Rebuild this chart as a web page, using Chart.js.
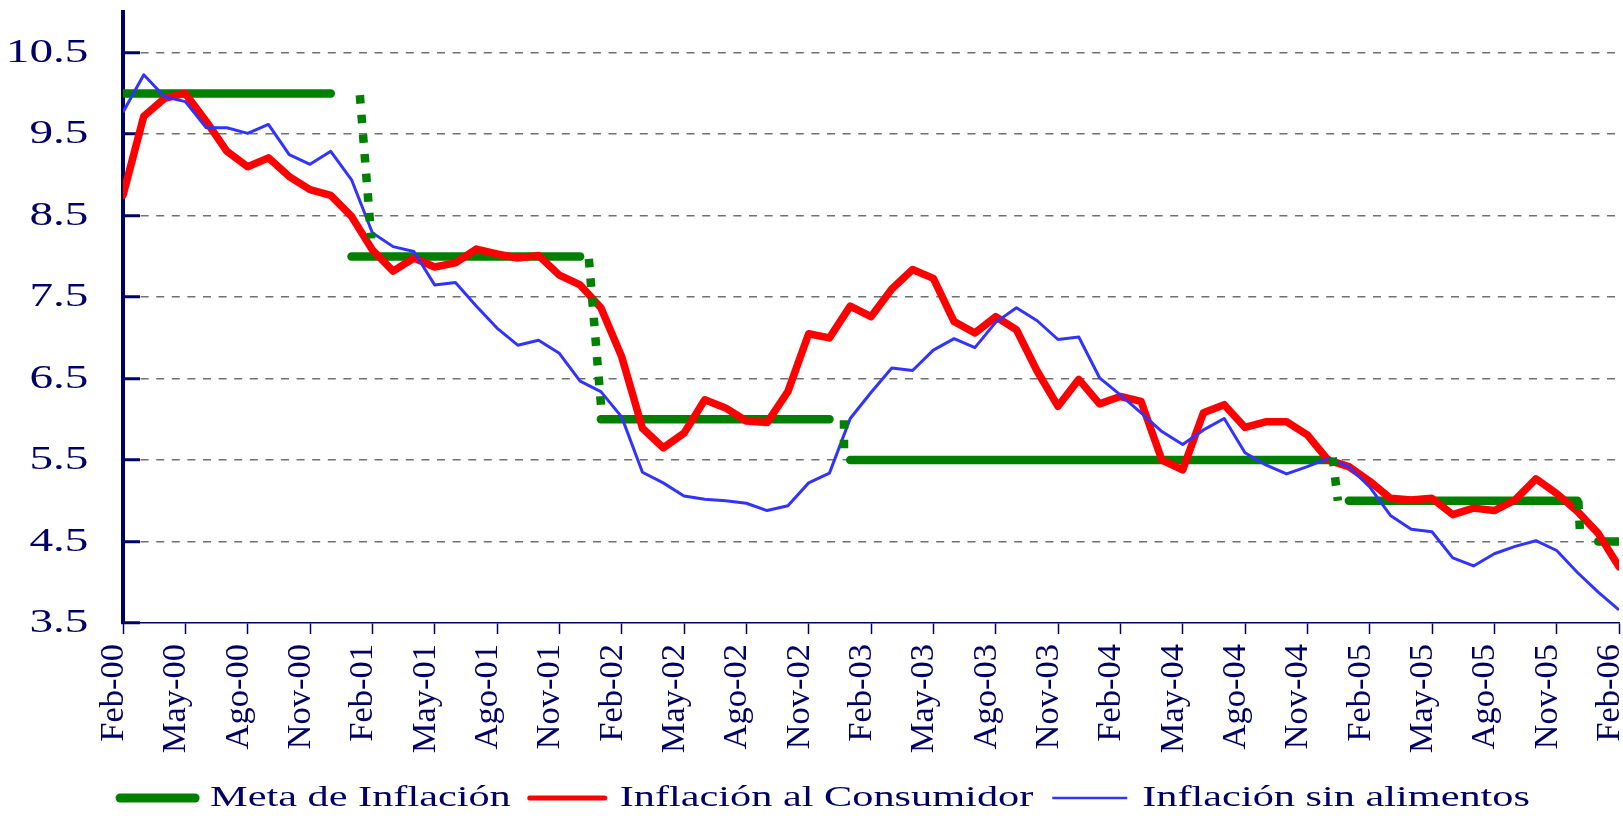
<!DOCTYPE html>
<html><head><meta charset="utf-8">
<style>html,body{margin:0;padding:0;background:#fff;}canvas{display:block;}</style>
<script src="https://cdn.jsdelivr.net/npm/chart.js@4.4.1/dist/chart.umd.min.js"></script>
</head><body>
<canvas id="c" width="1623" height="816"></canvas>
<script>
// ---------------- DATA ----------------
const categories = [
  'Feb-00','Mar-00','Abr-00','May-00','Jun-00','Jul-00','Ago-00','Sep-00','Oct-00','Nov-00','Dic-00',
  'Ene-01','Feb-01','Mar-01','Abr-01','May-01','Jun-01','Jul-01','Ago-01','Sep-01','Oct-01','Nov-01','Dic-01',
  'Ene-02','Feb-02','Mar-02','Abr-02','May-02','Jun-02','Jul-02','Ago-02','Sep-02','Oct-02','Nov-02','Dic-02',
  'Ene-03','Feb-03','Mar-03','Abr-03','May-03','Jun-03','Jul-03','Ago-03','Sep-03','Oct-03','Nov-03','Dic-03',
  'Ene-04','Feb-04','Mar-04','Abr-04','May-04','Jun-04','Jul-04','Ago-04','Sep-04','Oct-04','Nov-04','Dic-04',
  'Ene-05','Feb-05','Mar-05','Abr-05','May-05','Jun-05','Jul-05','Ago-05','Sep-05','Oct-05','Nov-05','Dic-05',
  'Ene-06','Feb-06'
];
const metaInflacion = [
  10,10,10,10,10,10,10,10,10,10,10,
  8,8,8,8,8,8,8,8,8,8,8,8,
  6,6,6,6,6,6,6,6,6,6,6,6,
  5.5,5.5,5.5,5.5,5.5,5.5,5.5,5.5,5.5,5.5,5.5,5.5,
  5.5,5.5,5.5,5.5,5.5,5.5,5.5,5.5,5.5,5.5,5.5,5.5,
  5,5,5,5,5,5,5,5,5,5,5,5,
  4.5,4.5
];
const inflacionConsumidor = [
  8.75,9.72,9.94,10.0,9.66,9.29,9.10,9.21,8.98,8.82,8.75,
  8.49,8.08,7.82,7.98,7.87,7.92,8.09,8.03,7.98,8.01,7.77,7.65,
  7.37,6.77,5.89,5.65,5.83,6.24,6.14,5.98,5.96,6.34,7.05,7.00,
  7.39,7.26,7.60,7.84,7.73,7.20,7.06,7.26,7.10,6.59,6.16,6.49,
  6.19,6.28,6.22,5.50,5.38,6.08,6.18,5.90,5.97,5.97,5.81,5.50,
  5.42,5.24,5.03,5.01,5.03,4.83,4.91,4.88,5.01,5.27,5.09,4.87,
  4.60,4.19
];
const inflacionSinAlimentos = [
  9.77,10.23,9.96,9.90,9.58,9.58,9.51,9.62,9.25,9.13,9.29,
  8.94,8.29,8.12,8.06,7.65,7.68,7.39,7.12,6.91,6.97,6.81,6.47,
  6.34,6.03,5.35,5.22,5.06,5.02,5.00,4.97,4.88,4.94,5.22,5.34,
  6.01,6.33,6.63,6.60,6.85,6.99,6.88,7.19,7.37,7.21,6.98,7.01,
  6.51,6.30,6.08,5.85,5.69,5.87,6.01,5.59,5.44,5.33,5.42,5.52,
  5.42,5.17,4.82,4.65,4.62,4.30,4.20,4.35,4.44,4.51,4.39,4.12,
  3.88,3.66
];
// dotted transitions of the target (x in month index)
const metaStepFromX = [11.40, 22.42, 34.70, 58.22, 70.04];
const metaStepFromY = [9.98, 7.97, 5.99, 5.53, 5.00];
const metaStepToX   = [11.95, 23.03, 34.70, 58.47, 70.12];
const metaStepToY   = [8.22, 6.10, 5.64, 5.00, 4.63];
const yTickValues = [3.5, 4.5, 5.5, 6.5, 7.5, 8.5, 9.5, 10.5];
const xTickEvery = 3;
const seriesNames = ['Meta de Inflación', 'Inflación al Consumidor', 'Inflación sin alimentos'];

// ---------------- STYLE ----------------
const NAVY = '#000066';
const GREEN = '#008000';
const RED = '#ff0000';
const BLUE = '#3333ff';
const LEGEND_SIZE = 30;
const TICK_SIZE = 34.5;
const K_LEGEND = 1.41;
const K_YTICK = 1.37;

const canvas = document.getElementById('c');
const g = canvas.getContext('2d');
function stretchFor(font) {
  if (font.indexOf('Times') >= 0 || font.indexOf('Liberation Serif') < 0) return 1;
  const m = /([\d.]+)px/.exec(font);
  const s = m ? parseFloat(m[1]) : 0;
  return Math.abs(s - LEGEND_SIZE) < 0.01 ? K_LEGEND : K_YTICK;
}
const origFill = g.fillText;
g.fillText = function (t, x, y, mw) {
  const k = stretchFor(this.font);
  if (k === 1) {
    return mw === undefined ? origFill.call(this, t, x, y) : origFill.call(this, t, x, y, mw);
  }
  this.save();
  this.translate(x, y);
  this.scale(k, 1);
  if (mw === undefined) origFill.call(this, t, 0, 0); else origFill.call(this, t, 0, 0, mw / k);
  this.restore();
};
const origMeasure = g.measureText;
g.measureText = function (t) {
  const m = origMeasure.call(this, t);
  const k = stretchFor(this.font);
  if (k === 1) return m;
  return {
    width: m.width * k,
    actualBoundingBoxLeft: m.actualBoundingBoxLeft * k,
    actualBoundingBoxRight: m.actualBoundingBoxRight * k,
    actualBoundingBoxAscent: m.actualBoundingBoxAscent,
    actualBoundingBoxDescent: m.actualBoundingBoxDescent,
    fontBoundingBoxAscent: m.fontBoundingBoxAscent,
    fontBoundingBoxDescent: m.fontBoundingBoxDescent
  };
};

const toPoints = arr => arr.map((v, i) => ({ x: i, y: v }));
const stepPoints = [];
metaStepFromX.forEach((fx, k) => {
  stepPoints.push({ x: fx, y: metaStepFromY[k] });
  stepPoints.push({ x: metaStepToX[k], y: metaStepToY[k] });
  stepPoints.push({ x: metaStepToX[k] + 0.01, y: null });
});

const legendItems = [
  { text: seriesNames[0], fillStyle: GREEN, strokeStyle: GREEN, lineWidth: 9, lineCap: 'round', pointStyle: 'line', hidden: false, fontColor: NAVY, datasetIndex: 0 },
  { text: seriesNames[1], fillStyle: RED, strokeStyle: RED, lineWidth: 5, lineCap: 'round', pointStyle: 'line', hidden: false, fontColor: NAVY, datasetIndex: 1 },
  { text: seriesNames[2], fillStyle: BLUE, strokeStyle: BLUE, lineWidth: 2.7, lineCap: 'butt', pointStyle: 'line', hidden: false, fontColor: NAVY, datasetIndex: 2 }
];

// keeps the legend row where the original places it (slightly right of centre)
const legendShift = {
  id: 'legendShift',
  afterLayout(chart) { if (chart.legend) chart.legend.left = 31; }
};

new Chart(g, {
  type: 'line',
  data: {
    datasets: [
      {
        label: seriesNames[0], data: toPoints(metaInflacion), borderColor: GREEN, borderWidth: 8.5,
        borderCapStyle: 'round', borderJoinStyle: 'round', pointRadius: 0, order: 3,
        segment: { borderColor: c => (c.p0.parsed.y !== c.p1.parsed.y ? 'rgba(0,0,0,0)' : undefined) }
      },
      {
        label: seriesNames[1], data: toPoints(inflacionConsumidor), borderColor: RED, borderWidth: 7.5,
        borderCapStyle: 'round', borderJoinStyle: 'round', pointRadius: 0, order: 2
      },
      {
        label: seriesNames[2], data: toPoints(inflacionSinAlimentos), borderColor: BLUE, borderWidth: 3,
        borderJoinStyle: 'round', pointRadius: 0, order: 1
      },
      {
        label: 'meta-step', data: stepPoints, borderColor: GREEN, borderWidth: 8.5,
        borderDash: [8.5, 11.2], borderCapStyle: 'butt', spanGaps: false, pointRadius: 0, order: 0
      }
    ]
  },
  plugins: [legendShift],
  options: {
    responsive: false,
    animation: false,
    events: [],
    layout: { padding: { left: 0, right: 4, top: 12, bottom: 2 } },
    plugins: {
      tooltip: { enabled: false },
      legend: {
        position: 'bottom',
        maxHeight: 50,
        labels: {
          usePointStyle: true,
          pointStyleWidth: 75,
          padding: 19,
          color: NAVY,
          font: { family: 'Liberation Serif', size: LEGEND_SIZE },
          generateLabels: () => legendItems
        }
      }
    },
    scales: {
      x: {
        type: 'linear',
        min: 0,
        max: categories.length - 1,
        afterBuildTicks: s => {
          s.ticks = categories.map((c, i) => i).filter(i => i % xTickEvery === 0).map(v => ({ value: v }));
        },
        afterFit: s => { s.height = 141; s.paddingLeft = 0; s.paddingRight = 0; },
        ticks: {
          autoSkip: false, minRotation: 90, maxRotation: 90, padding: 10, labelOffset: -9,
          color: NAVY, font: { family: 'Liberation Serif, Times', size: TICK_SIZE },
          callback: v => categories[v]
        },
        grid: { drawOnChartArea: false, drawTicks: true, tickLength: 11, tickWidth: 1.5, tickColor: NAVY },
        border: { display: true, color: NAVY, width: 1.5 }
      },
      y: {
        type: 'linear',
        min: 3.5,
        max: 11,
        afterBuildTicks: s => { s.ticks = yTickValues.map(v => ({ value: v })); },
        afterFit: s => { s.width = 123; s.paddingTop = 0; s.paddingBottom = 0; },
        ticks: {
          padding: 51.5, color: NAVY, font: { family: 'Liberation Serif', size: TICK_SIZE },
          callback: v => Number(v).toFixed(1)
        },
        grid: {
          color: c => (c.tick && c.tick.value === 3.5 ? 'rgba(0,0,0,0)' : '#707070'),
          lineWidth: 1.5, drawTicks: true, tickLength: -17, tickWidth: 3, tickColor: NAVY, tickBorderDash: []
        },
        border: { display: true, color: NAVY, width: 4, dash: [8, 7.6] }
      }
    }
  }
});
</script>
</body></html>
